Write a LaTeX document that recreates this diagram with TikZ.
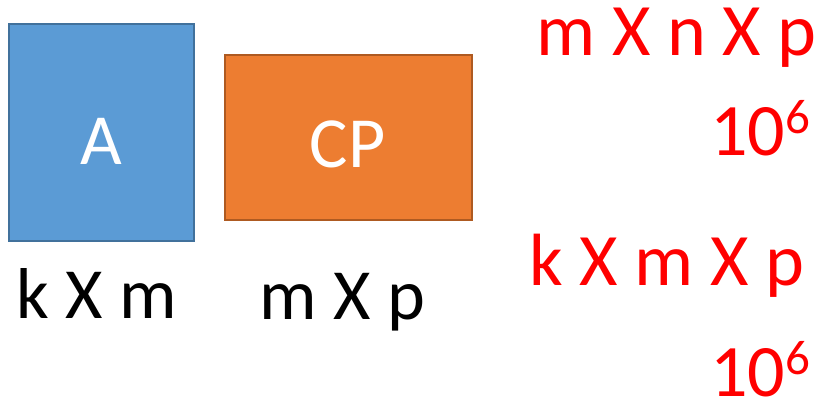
\documentclass[tikz,border=0pt]{standalone}
\usepackage{fontspec}
\setmainfont{Carlito}
\definecolor{boxblue}{HTML}{5B9BD5}
\definecolor{boxblueedge}{HTML}{41719C}
\definecolor{boxorange}{HTML}{ED7D31}
\definecolor{boxorangeedge}{HTML}{AE5A21}
\tikzset{
  bigtxt/.style={inner sep=0pt, font=\fontsize{72}{72}\selectfont},
  boxtxt/.style={bigtxt, text=white, anchor=base},
  dimtxt/.style={bigtxt, text=black, anchor=base},
  redtxt/.style={inner sep=0pt, font=\fontsize{74}{74}\selectfont, text=red, anchor=base east},
  matbox/.style={draw, line width=1.6pt, inner sep=0pt, minimum width=#1},
}
\newcommand{\supsix}{\raisebox{22pt}{\fontsize{49}{49}\selectfont 6}}
\begin{document}
\begin{tikzpicture}[x=1pt,y=-1pt]
\useasboundingbox (0,0) rectangle (819,399);
% boxes
\node[matbox=185pt, minimum height=217pt, fill=boxblue, draw=boxblueedge] (A) at (101.5,132.5) {};
\node[matbox=247pt, minimum height=165pt, fill=boxorange, draw=boxorangeedge] (CP) at (348.5,137.5) {};
% box labels
\node[boxtxt] (Alab) at (101.5,164) {A};
\node[boxtxt] (CPlab) at (347.5,167.5) {CP};
% dimensions
\node[dimtxt] (kxm) at (96.5,318) {k X m};
\node[dimtxt] (mxp) at (342.5,319) {m X p};
% red annotations
\node[redtxt] (mnp) at (817,55) {m X n X p};
\node[redtxt] (ten1) at (810.5,155) {10\supsix};
\node[redtxt] (kmp) at (805,285) {k X m X p};
\node[redtxt] (ten2) at (810.5,396) {10\supsix};
\end{tikzpicture}
\end{document}
